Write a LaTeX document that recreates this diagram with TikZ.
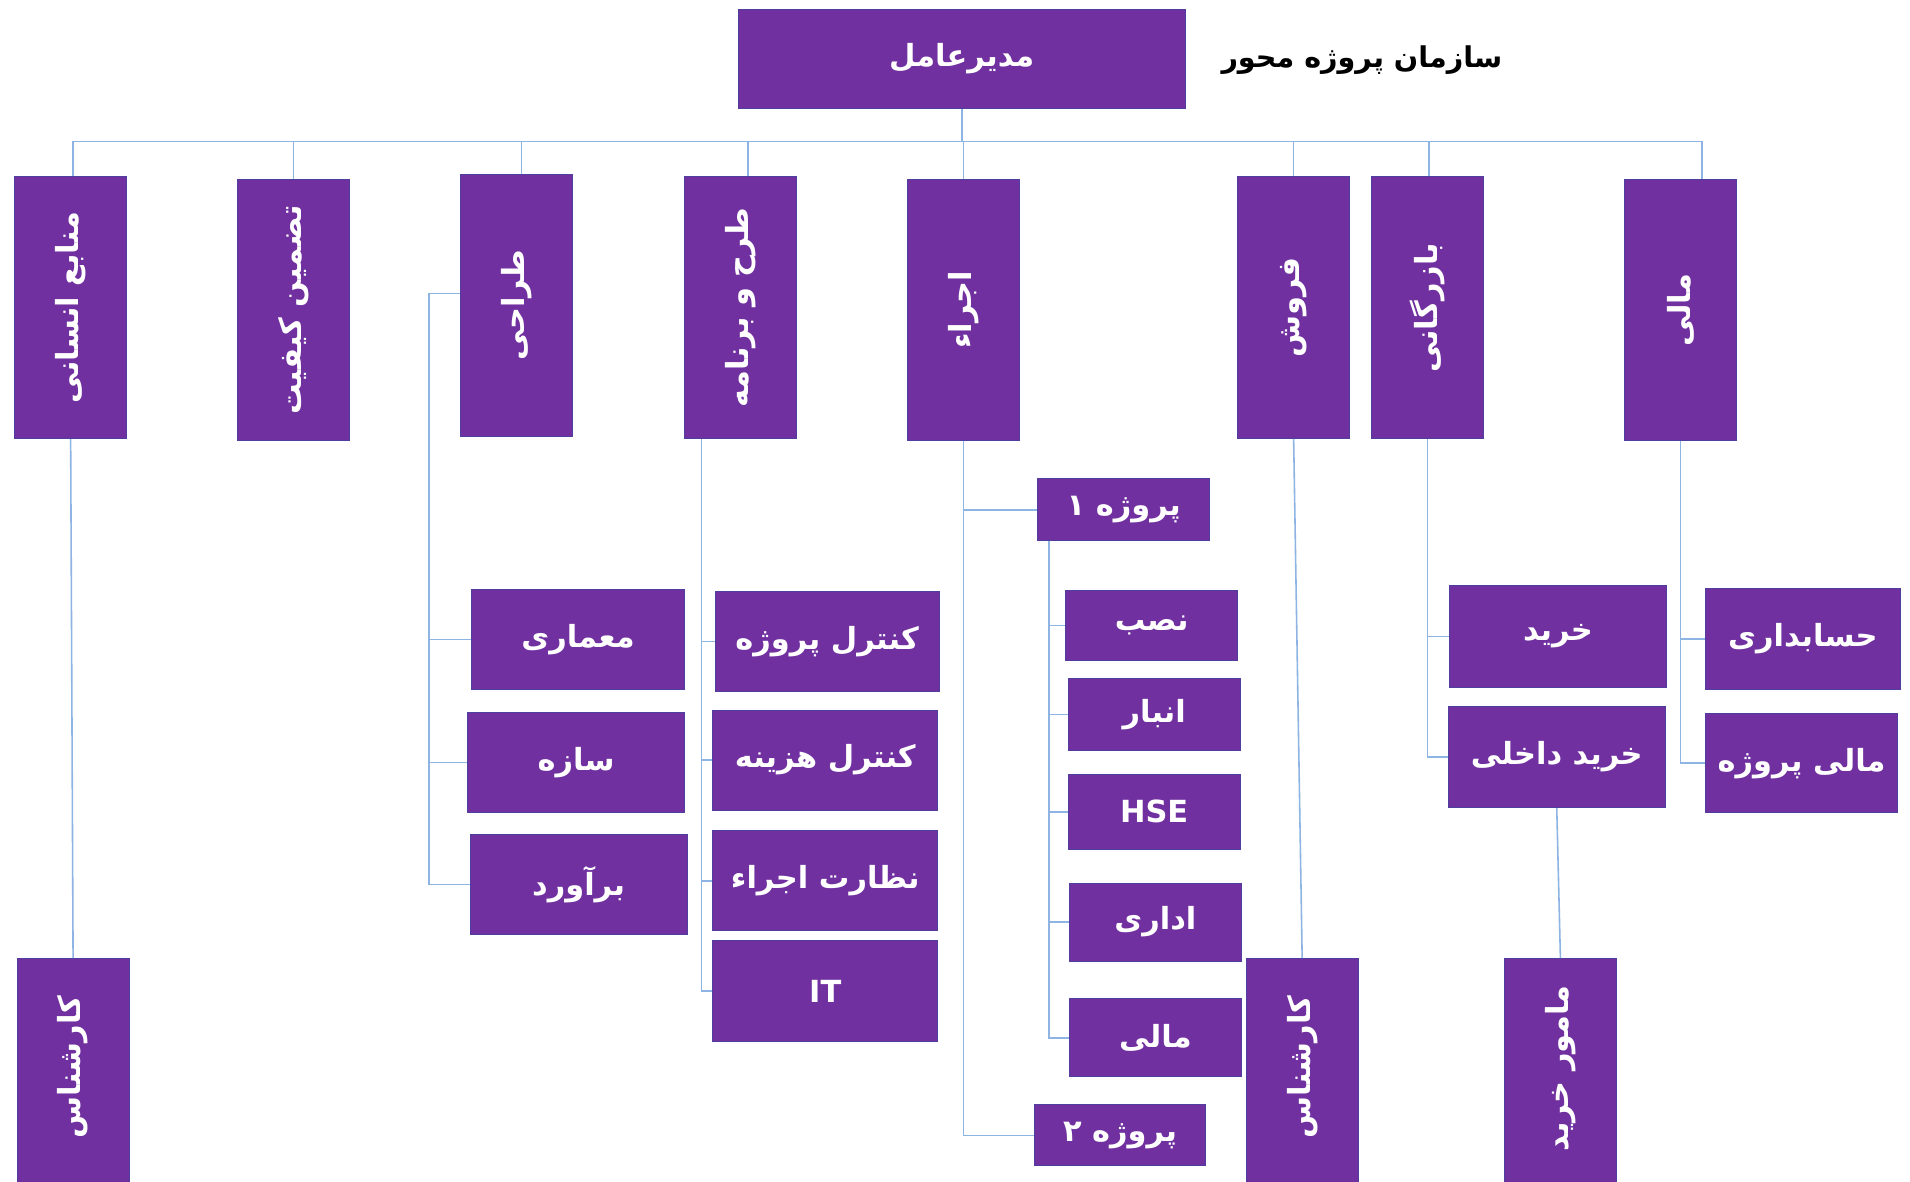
\documentclass[tikz,border=0pt]{standalone}
\usepackage{fontspec}
\newfontfamily\fafont[Script=Arabic]{DejaVu Sans}
\TeXXeTstate=1
\newcommand\fa[1]{\beginR #1\endR}
\definecolor{pp}{HTML}{7030A0}
\definecolor{ppb}{HTML}{4E3E9E}
\definecolor{ln}{HTML}{8DB4E2}
\tikzset{
  lbl/.style={text=white, font=\fafont\bfseries\fontsize{25}{30}\selectfont},
  box/.style={fill=pp, draw=ppb, line width=0.8pt, inner sep=0pt, lbl},
  tall/.style={box, minimum width=92pt, minimum height=215pt},
  sub/.style={box, minimum width=178pt, minimum height=82pt},
  pbox/.style={box, minimum width=141pt},
  vtxt/.style={lbl, rotate=90, inner sep=0pt},
  conn/.style={draw=ln, line width=1.3pt},
}
\begin{document}
\begin{tikzpicture}[x=1pt,y=-1pt]
\useasboundingbox (0,0) rectangle (1568,970);
\fill[white] (0,0) rectangle (1568,970);

% title and CEO
\node[font=\fafont\bfseries\fontsize{23.5}{28}\selectfont, text=black] (title) at (1118,49) {\fa{سازمان پروژه محور}};
\node[box, minimum width=367pt, minimum height=81pt] (ceo) at (789.5,48.5) {\fa{مدیرعامل}};

% top-level departments
\node[tall] (hr)   at (58,252.5) {};
\node[tall] (qa)   at (241,254.5) {};
\node[tall] (des)  at (424,250.5) {};
\node[tall] (plan) at (608,252.5) {};
\node[tall] (exe)  at (791,254.5) {};
\node[tall] (sale) at (1062,252.5) {};
\node[tall] (com)  at (1172,252.5) {};
\node[tall] (fin)  at (1379.5,254.5) {};
\node[vtxt] (hrT)   at (hr.center)   {\fa{منابع انسانی}};
\node[vtxt] (qaT)   at (qa.center)   {\fa{تضمین کیفیت}};
\node[vtxt] (desT)  at (des.center)  {\fa{طراحی}};
\node[vtxt] (planT) at (plan.center) {\fa{طرح و برنامه}};
\node[vtxt] (exeT)  at (exe.center)  {\fa{اجراء}};
\node[vtxt] (saleT) at (sale.center) {\fa{فروش}};
\node[vtxt] (comT)  at (com.center)  {\fa{بازرگانی}};
\node[vtxt] (finT)  at (fin.center)  {\fa{مالی}};

% design
\node[sub, minimum width=175pt] (arch) at (474.5,525) {\fa{معماری}};
\node[sub] (str)  at (473,626) {\fa{سازه}};
\node[sub] (est)  at (475,726) {\fa{برآورد}};

% planning
\node[sub, minimum width=184pt] (pc) at (679,526.5) {\fa{کنترل پروژه}};
\node[sub, minimum width=185pt] (cc) at (677.5,624) {\fa{کنترل هزینه}};
\node[sub, minimum width=185pt] (sup) at (677.5,723) {\fa{نظارت اجراء}};
\node[sub, minimum width=185pt, minimum height=83pt] (it) at (677.5,813.5) {IT};

% execution
\node[pbox, minimum height=51pt] (p1) at (922.5,418.5) {\fa{پروژه ۱}};
\node[pbox, minimum height=50pt] (p2) at (919.5,932) {\fa{پروژه ۲}};
\node[pbox, minimum height=57pt] (nsb) at (945.5,513.5) {\fa{نصب}};
\node[pbox, minimum height=59pt] (anb) at (947.5,586.5) {\fa{انبار}};
\node[pbox, minimum height=61pt] (hse) at (947.5,666.5) {HSE};
\node[pbox, minimum height=64pt] (adm) at (948.5,757) {\fa{اداری}};
\node[pbox, minimum height=64pt] (mal) at (948.5,852) {\fa{مالی}};

% commerce
\node[sub, minimum height=83pt] (buy)  at (1279,522.5) {\fa{خرید}};
\node[sub, minimum height=83pt] (ibuy) at (1278,621.5) {\fa{خرید داخلی}};

% finance
\node[sub, minimum width=160pt, minimum height=83pt] (acc) at (1480,524.5) {\fa{حسابداری}};
\node[sub, minimum width=158pt, minimum height=81pt] (pf)  at (1479,626.5) {\fa{مالی پروژه}};

% bottom tall boxes
\node[box, minimum width=92pt, minimum height=190pt] (ks1) at (60,882) {};
\node[box, minimum width=92pt, minimum height=190pt] (ks2) at (1069,882) {};
\node[box, minimum width=92pt, minimum height=190pt] (mk)  at (1281,882) {};
\node[vtxt] (ks1T) at (60,876)   {\fa{کارشناس}};
\node[vtxt] (ks2T) at (1069,876) {\fa{کارشناس}};
\node[vtxt] (mkT)  at (1281,877) {\fa{مامور خرید}};

% ---------- connectors ----------
\coordinate (busL) at (60,116);
\coordinate (busR) at (1397,116);
\coordinate (dqa)  at (241,116);
\coordinate (ddes) at (428,116);
\coordinate (dplan) at (614,116);
\coordinate (dsale) at (1062,116);
\coordinate (dcom) at (1173,116);
\draw[conn] (busL) -- (busR);
\draw[conn] (ceo.south) -- (ceo.south |- busL);
\draw[conn] (busL) -- (busL |- hr.north);
\draw[conn] (dqa) -- (dqa |- qa.north);
\draw[conn] (ddes) -- (ddes |- des.north);
\draw[conn] (dplan) -- (dplan |- plan.north);
\draw[conn] (exe.north |- busL) -- (exe.north);
\draw[conn] (dsale) -- (dsale |- sale.north);
\draw[conn] (dcom) -- (dcom |- com.north);
\draw[conn] (busR) -- (busR |- fin.north);

% human resources / sales
\draw[conn] (hr.south) -- (ks1.north);
\draw[conn] (sale.south) -- (ks2.north);

% design branch
\coordinate (desK) at (352,241);
\draw[conn] (des.west |- desK) -- (desK) -- (desK |- est.west) -- (est.west);
\draw[conn] (desK |- arch.west) -- (arch.west);
\draw[conn] (desK |- str.west) -- (str.west);

% planning branch
\coordinate (planK) at (576,360);
\draw[conn] (planK |- plan.south) -- (planK |- it.west) -- (it.west);
\draw[conn] (planK |- pc.west) -- (pc.west);
\draw[conn] (planK |- cc.west) -- (cc.west);
\draw[conn] (planK |- sup.west) -- (sup.west);

% execution branch
\draw[conn] (exe.south) -- (exe.south |- p2.west) -- (p2.west);
\draw[conn] (exe.south |- p1.west) -- (p1.west);
\coordinate (p1K) at (861,444);
\draw[conn] (p1K |- p1.south) -- (p1K |- mal.west) -- (mal.west);
\draw[conn] (p1K |- nsb.west) -- (nsb.west);
\draw[conn] (p1K |- anb.west) -- (anb.west);
\draw[conn] (p1K |- hse.west) -- (hse.west);
\draw[conn] (p1K |- adm.west) -- (adm.west);

% commerce branch
\draw[conn] (com.south) -- (com.south |- ibuy.west) -- (ibuy.west);
\draw[conn] (com.south |- buy.west) -- (buy.west);
\draw[conn] (ibuy.south) -- (mk.north);

% finance branch
\draw[conn] (fin.south) -- (fin.south |- pf.west) -- (pf.west);
\draw[conn] (fin.south |- acc.west) -- (acc.west);
\end{tikzpicture}
\end{document}
